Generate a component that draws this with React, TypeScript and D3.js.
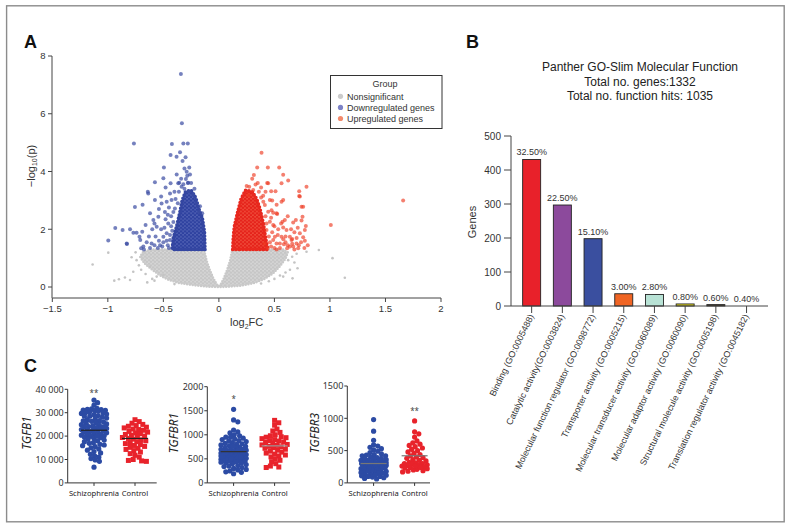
import React from 'react';
import * as d3 from 'd3';

// ---------------- Panel A: volcano ----------------
const volcanoXTicks = [-1.5, -1, -0.5, 0, 0.5, 1, 1.5, 2];
const volcanoYTicks = [0, 2, 4, 6, 8];
const legendLabels = ['Nonsignificant', 'Downregulated genes', 'Upregulated genes'];
const legendColors = ['#cbcbcb', '#7c82c6', '#f38a6c'];

// dense non-significant cloud (outline)
const grayCloud: [number, number][] = [
  [-0.135, 1.3], [-0.45, 1.3], [-0.6, 1.3], [-0.68, 1.22], [-0.71, 1.05], [-0.67, 0.82], [-0.6, 0.6],
  [-0.53, 0.4], [-0.46, 0.26], [-0.36, 0.14], [-0.22, 0.06], [-0.08, 0.01], [0, 0], [0.08, 0.01],
  [0.2, 0.05], [0.32, 0.14], [0.41, 0.28], [0.49, 0.48], [0.55, 0.72], [0.6, 0.98], [0.62, 1.2],
  [0.58, 1.3], [0.122, 1.3], [0.1, 0.9], [0.075, 0.6], [0.045, 0.3], [0.015, 0.08], [0, 0.03],
  [-0.018, 0.08], [-0.05, 0.3], [-0.083, 0.6], [-0.11, 0.9],
];
const grayPoints: [number, number][] = [
  [-1.137, 0.78], [-0.996, 1.19], [-0.942, 0.22], [-0.9, 0.27], [-0.846, 0.33], [-0.8, 0.24], [-0.771, 0.53],
  [-0.786, 1.03], [-0.741, 0.93], [-0.645, 0.16], [0.9, 1.28], [1.023, 1.0], [1.134, 0.32], [0.663, 0.3],
  [0.579, 0.36], [0.708, 0.65], [0.789, 1.22], [0.624, 0.93], [-0.56, 0.36], [-0.5, 0.41], [-0.72, 0.75],
  [-0.66, 0.45], [-0.6, 0.28], [0.66, 1.05], [0.68, 0.85], [0.55, 0.4], [0.64, 0.6], [-0.75, 1.2], [-0.62, 0.7],
  [-0.7, 0.6], [-0.58, 0.22], [0.45, 0.2], [0.5, 0.28], [0.6, 0.5], [0.7, 1.15], [-0.4, 0.1], [0.38, 0.12],
];
const downCore: [number, number][] = [
  [-0.126, 1.3], [-0.42, 1.3], [-0.41, 1.7], [-0.38, 2.1], [-0.35, 2.6], [-0.33, 3.0], [-0.3, 3.3],
  [-0.25, 3.35], [-0.21, 3.1], [-0.18, 2.7], [-0.15, 2.4], [-0.13, 1.9],
];
const downPoints: [number, number][] = [
  [-0.342, 7.38], [-0.333, 5.67], [-0.765, 4.97], [-0.423, 4.95], [-0.32, 4.97], [-0.28, 4.97], [-0.35, 4.67],
  [-0.435, 4.57], [-0.381, 4.51], [-0.3, 4.49], [-0.327, 4.36], [-0.495, 4.14], [-0.267, 4.14], [-0.29, 3.99],
  [-0.285, 3.85], [-0.297, 3.74], [-0.5, 3.77], [-0.576, 3.63], [-0.435, 3.59], [-0.357, 3.61], [-0.32, 3.56],
  [-0.64, 3.3], [-0.52, 3.13], [-0.687, 2.85], [-0.756, 2.77], [-0.933, 2.04], [-0.996, 1.61], [-0.867, 1.97],
  [-0.8, 2.0], [-0.828, 1.49], [-0.741, 1.88], [-0.69, 1.91], [-0.708, 1.63], [-0.68, 1.4], [-0.675, 1.3],
  [-0.83, 1.51], [-0.77, 1.88], [-0.715, 1.74], [-0.7, 1.34], [-0.636, 3.24], [-0.576, 3.01], [-0.62, 2.55],
  [-0.59, 2.32], [-0.56, 2.09], [-0.545, 2.43], [-0.606, 1.51], [-0.53, 1.45], [-0.5, 1.74], [-0.516, 2.89],
  [-0.486, 2.6], [-0.456, 2.2], [-0.44, 3.24], [-0.426, 3.01], [-0.396, 2.72], [-0.47, 1.86], [-0.44, 1.63],
  [-0.366, 3.59], [-0.336, 3.47], [-0.276, 3.61], [-0.48, 2.35], [-0.46, 1.45], [-0.52, 2.0], [-0.57, 1.75],
  [-0.65, 1.55], [-0.6, 2.0], [-0.42, 1.95], [-0.43, 2.45], [-0.47, 2.95], [-0.4, 3.3], [-0.38, 3.9],
  [-0.31, 4.1], [-0.27, 3.3], [-0.55, 1.35], [-0.62, 1.35], [-0.5, 1.55], [-0.45, 2.75], [-0.41, 2.25],
  [-0.37, 2.9], [-0.23, 3.2], [-0.2, 2.9], [-0.25, 3.6], [-0.45, 1.35], [-0.47, 1.6], [-0.49, 2.05],
  [-0.51, 1.4], [-0.54, 1.6], [-0.58, 1.45], [-0.44, 1.8], [-0.46, 2.5], [-0.43, 2.1], [-0.41, 2.6],
  [-0.39, 3.05], [-0.36, 3.3], [-0.34, 3.75], [-0.31, 3.4], [-0.28, 3.6], [-0.26, 3.9], [-0.22, 3.4],
  [-0.18, 2.6], [-0.17, 2.8], [-0.15, 2.55], [-0.63, 1.75], [-0.66, 2.15], [-0.54, 2.7], [-0.58, 2.2],
  [-0.48, 3.45],
];
const upCore: [number, number][] = [
  [0.125, 1.3], [0.44, 1.3], [0.42, 1.7], [0.4, 2.2], [0.37, 2.7], [0.34, 3.05], [0.3, 3.3],
  [0.24, 3.35], [0.2, 3.05], [0.17, 2.6], [0.14, 2.1], [0.13, 1.7],
];
const upPoints: [number, number][] = [
  [0.384, 4.65], [0.345, 4.14], [0.441, 4.14], [0.543, 4.14], [0.315, 3.88], [0.579, 3.89], [0.435, 3.6],
  [0.624, 3.69], [0.789, 3.47], [0.723, 3.32], [0.723, 3.15], [0.51, 3.32], [0.471, 3.32], [0.399, 3.16],
  [0.579, 3.01], [1.659, 3.0], [1.008, 2.15], [0.744, 2.78], [0.753, 2.43], [0.744, 2.3], [0.783, 2.11],
  [0.669, 2.23], [0.693, 2.32], [0.594, 2.32], [0.573, 2.26], [0.474, 2.66], [0.489, 2.57], [0.525, 2.53],
  [0.759, 1.72], [0.774, 1.6], [0.66, 1.66], [0.639, 1.74], [0.564, 1.74], [0.585, 1.48], [0.669, 1.4],
  [0.714, 1.34], [0.615, 1.34], [0.534, 2.0], [0.579, 2.06], [0.489, 1.63], [0.519, 1.51], [0.273, 3.47],
  [0.309, 3.36], [0.264, 3.18], [0.414, 2.84], [0.459, 2.26], [0.429, 1.97], [0.729, 3.13], [0.759, 2.78],
  [0.774, 1.97], [0.729, 1.86], [0.699, 1.51], [0.654, 1.63], [0.639, 1.4], [0.609, 1.97], [0.564, 2.95],
  [0.519, 2.55], [0.489, 2.15], [0.504, 1.74], [0.549, 1.51], [0.429, 2.2], [0.444, 2.61], [0.459, 3.01],
  [0.444, 3.59], [0.564, 3.59], [0.47, 1.4], [0.5, 1.35], [0.45, 1.75], [0.42, 2.45], [0.4, 2.95],
  [0.36, 3.3], [0.35, 3.6], [0.3, 3.75], [0.25, 3.5], [0.55, 1.35], [0.6, 1.55], [0.68, 1.9], [0.72, 1.45],
  [0.8, 1.45], [0.38, 3.1], [0.46, 1.55], [0.48, 1.9], [0.52, 1.3], [0.53, 1.8], [0.56, 2.2], [0.58, 1.65],
  [0.62, 1.45], [0.65, 2.0], [0.66, 1.5], [0.7, 1.7], [0.71, 2.05], [0.74, 1.55], [0.77, 1.35], [0.62, 2.45],
  [0.52, 2.85], [0.48, 3.0], [0.42, 3.3], [0.38, 3.45], [0.33, 3.55], [0.41, 1.5], [0.44, 1.35], [0.47, 2.4],
  [0.5, 2.1], [0.6, 1.75], [0.68, 1.3],
];

// ---------------- Panel B: GO-Slim bars ----------------
const goCategories = [
  'Binding (GO:0005488)',
  'Catalytic activity(GO:0003824)',
  'Molecular function regulator (GO:0098772)',
  'Transporter activity (GO:0005215)',
  'Molecular transducer activity (GO:0060089)',
  'Molecular adaptor activity (GO:0060090)',
  'Structural molecule activity (GO:0005198)',
  'Translation regulator activity (GO:0045182)',
];
const goCounts = [431, 297, 198, 36, 34, 6, 4, 0];
const goPercents = ['32.50%', '22.50%', '15.10%', '3.00%', '2.80%', '0.80%', '0.60%', '0.40%'];
const goColors = ['#e8212a', '#8c4a9c', '#3a4f9f', '#f06524', '#b8e2d5', '#f2e81e', '#4a3d22', '#ffffff'];
const goYTicks = [0, 100, 200, 300, 400, 500];
const goTitle = ['Panther GO-Slim Molecular Function', 'Total no. genes:1332', 'Total no. function hits: 1035'];

// ---------------- Panel C: TGF-beta expression ----------------
const groups = ['Schizophrenia', 'Control'];
const tgfb1Schizo = [35400, 34300, 33200, 31900, 31600, 31400, 31300, 31100, 31000, 30900, 30700, 30400, 30100,
  29700, 29400, 29100, 28800, 28500, 28100, 27700, 27400, 27000, 26600, 26300, 26000, 25700, 25500, 25200, 24900,
  24600, 24400, 24100, 23900, 23600, 23300, 23100, 22800, 22600, 22400, 22100, 21900, 21600, 21400, 21100, 20900,
  20600, 20400, 20100, 19900, 19600, 19300, 19000, 18700, 18300, 18000, 17600, 17200, 16900, 16500, 16200, 15900,
  15500, 15000, 14500, 14000, 13400, 12800, 12200, 11600, 11000, 10400, 9800, 9200, 6700, 24000, 26500, 22000,
  28500, 30000, 20000];
const tgfb1Control = [27000, 26200, 25500, 25000, 24500, 24200, 23800, 23500, 23000, 22800, 22500, 22000, 21700,
  21300, 21000, 20700, 20400, 20000, 19700, 19400, 19000, 18700, 18400, 18000, 17600, 17200, 16800, 16400, 16000,
  15600, 15200, 14800, 14300, 13800, 13200, 12500, 11800, 11000, 10000, 9600, 9400, 9200];
const tgfbr1Schizo = [1530, 1310, 1270, 1100, 1060, 1040, 1000, 980, 950, 930, 900, 880, 860, 840, 820, 800, 790,
  770, 760, 740, 730, 720, 700, 690, 680, 670, 660, 650, 640, 630, 620, 610, 600, 590, 580, 570, 560, 550, 540, 530,
  520, 510, 500, 490, 480, 470, 460, 450, 440, 420, 400, 380, 360, 340, 320, 300, 280, 250, 220, 190, 700, 650, 620,
  580, 550, 520, 480, 450, 680, 640, 600, 560, 540, 500, 460, 430, 410, 350, 270, 230, 760, 810, 870, 910, 950];
const tgfbr1Control = [1300, 1250, 1200, 1120, 1080, 1050, 1000, 980, 960, 950, 940, 920, 900, 880, 870, 850, 840,
  820, 800, 790, 780, 760, 750, 730, 720, 700, 680, 660, 640, 620, 600, 580, 560, 540, 500, 470, 440, 400, 350, 330,
  320];
const tgfbr3Schizo = [980, 800, 660, 590, 570, 550, 530, 510, 490, 470, 450, 440, 430, 420, 400, 390, 380, 370, 360,
  350, 340, 330, 320, 310, 300, 300, 290, 290, 280, 280, 270, 260, 250, 240, 230, 220, 210, 200, 190, 180, 170, 160,
  150, 140, 130, 120, 110, 100, 90, 80, 70, 60, 300, 310, 320, 280, 260, 240, 200, 150, 120, 100, 420, 380, 350, 330,
  270, 250, 230, 180];
const tgfbr3Control = [960, 790, 760, 710, 650, 620, 600, 580, 560, 540, 520, 500, 480, 460, 440, 420, 400, 390, 380,
  360, 350, 340, 320, 310, 300, 290, 280, 270, 260, 250, 240, 230, 220, 210, 200, 190, 180, 170, 300, 280, 260, 240];
const tgfb1Means = [22500, 19000];
const tgfbr1Means = [650, 770];
const tgfbr3Means = [300, 420];
const tgfb1Ticks = [0, 10000, 20000, 30000, 40000];
const tgfbr1Ticks = [0, 500, 1000, 1500, 2000];
const tgfbr3Ticks = [0, 500, 1000, 1500];

const SANS = "'Liberation Sans', Arial, Helvetica, sans-serif";
const CSANS = "'Noto Sans', 'Liberation Sans', sans-serif";
const TXT = '#333333';

type Pt = [number, number];

function DotPattern({ id, bg, dot }: { id: string; bg: string; dot: string }) {
  return (
    <pattern id={id} width={4} height={3.6} patternUnits="userSpaceOnUse">
      <rect width={4} height={3.6} fill={bg} />
      <circle cx={1} cy={0.9} r={1.25} fill={dot} />
      <circle cx={3} cy={2.7} r={1.25} fill={dot} />
    </pattern>
  );
}

function Volcano() {
  const x = d3.scaleLinear().domain([-1.5, 2]).range([52.3, 441]);
  const y = d3.scaleLinear().domain([0, 8]).range([287, 56]);
  const axisY = 298;
  const axisX = 52;
  const poly = d3.line<Pt>().x((d) => x(d[0])).y((d) => y(d[1])).curve(d3.curveLinearClosed);
  return (
    <g fontFamily={SANS}>
      <defs>
        <DotPattern id="pGray" bg="#d6d6d6" dot="#c6c6c6" />
        <DotPattern id="pBlue" bg="#4d5eb2" dot="#2f42a0" />
        <DotPattern id="pRed" bg="#ef4a38" dot="#e5231b" />
      </defs>
      <path d={poly(grayCloud) || ''} fill="url(#pGray)" stroke="#c9c9c9" strokeWidth={2.6}
        strokeDasharray="0 2.8" strokeLinecap="round" strokeLinejoin="round" />
      {grayPoints.map((d, i) => (
        <circle key={'g' + i} cx={x(d[0])} cy={y(d[1])} r={1.3} fill="#c4c4c4" />
      ))}
      <path d={poly(downCore) || ''} fill="url(#pBlue)" stroke="#3446a1" strokeWidth={3.8}
        strokeDasharray="0 3.4" strokeLinecap="round" strokeLinejoin="round" />
      {downPoints.map((d, i) => (
        <circle key={'b' + i} cx={x(d[0])} cy={y(d[1])} r={2} fill="#3a4ca3" fillOpacity={0.7} />
      ))}
      <path d={poly(upCore) || ''} fill="url(#pRed)" stroke="#e8281e" strokeWidth={3.8}
        strokeDasharray="0 3.4" strokeLinecap="round" strokeLinejoin="round" />
      {upPoints.map((d, i) => (
        <circle key={'r' + i} cx={x(d[0])} cy={y(d[1])} r={2} fill="#ee3a22" fillOpacity={0.65} />
      ))}
      {/* axes */}
      <line x1={axisX} x2={axisX} y1={y(8)} y2={axisY} stroke="#444" strokeWidth={1} />
      {volcanoYTicks.map((t) => (
        <g key={'yt' + t}>
          <line x1={axisX - 4} x2={axisX} y1={y(t)} y2={y(t)} stroke="#444" />
          <text x={axisX - 6.5} y={y(t) + 3.4} fontSize={9.5} textAnchor="end" fill={TXT}>{t}</text>
        </g>
      ))}
      <line x1={x(-1.5)} x2={x(2)} y1={axisY} y2={axisY} stroke="#444" strokeWidth={1} />
      {volcanoXTicks.map((t) => (
        <g key={'xt' + t}>
          <line x1={x(t)} x2={x(t)} y1={axisY} y2={axisY + 4} stroke="#444" />
          <text x={x(t)} y={axisY + 13.5} fontSize={9.5} textAnchor="middle" fill={TXT}>
            {t < 0 ? '\u2212' + Math.abs(t) : String(t)}
          </text>
        </g>
      ))}
      <text x={x(0.25)} y={326} fontSize={11} textAnchor="middle" fill={TXT}>
        log<tspan fontSize={7} dy={2.5}>2</tspan><tspan dy={-2.5}>FC</tspan>
      </text>
      <text transform={`translate(34.5,166) rotate(-90)`} fontSize={11} textAnchor="middle" fill={TXT}>
        {'\u2212log'}<tspan fontSize={7} dy={2.5}>10</tspan><tspan dy={-2.5}>(p)</tspan>
      </text>
      {/* legend */}
      <rect x={330.5} y={75.5} width={111.5} height={53} fill="#fff" stroke="#333" strokeWidth={1} />
      <text x={385} y={86.5} fontSize={9} textAnchor="middle" fill={TXT}>Group</text>
      {legendLabels.map((l, i) => (
        <g key={l}>
          <circle cx={340.5} cy={96.3 + i * 11.1} r={2.6} fill={legendColors[i]} />
          <text x={347} y={99.5 + i * 11.1} fontSize={9} fill={TXT}>{l}</text>
        </g>
      ))}
    </g>
  );
}

function GoBars() {
  const x = d3.scalePoint<string>().domain(goCategories).range([516.3, 761.9]).padding(0.5);
  const y = d3.scaleLinear().domain([0, 500]).range([306, 136]);
  const axisX = 511;
  const bw = 18;
  return (
    <g fontFamily={SANS}>
      {goTitle.map((t, i) => (
        <text key={t} x={640} y={71.3 + i * 14.5} fontSize={12} textAnchor="middle" fill="#222">{t}</text>
      ))}
      {goCategories.map((c, i) => {
        const cx = x(c) as number;
        const top = y(goCounts[i]);
        return (
          <g key={c}>
            {goCounts[i] > 0 && (
              <rect x={cx - bw / 2} y={top} width={bw} height={y(0) - top} fill={goColors[i]} stroke="#222" strokeWidth={0.9} />
            )}
            <text x={cx} y={top - 4} fontSize={9} textAnchor="middle" fill={TXT}>{goPercents[i]}</text>
            <line x1={cx} x2={cx} y1={y(0)} y2={y(0) + 7} stroke="#444" />
            <text transform={`translate(${cx + 2.5},${316}) rotate(-64)`} fontSize={9} textAnchor="end" fill={TXT}>{c}</text>
          </g>
        );
      })}
      <line x1={axisX} x2={axisX} y1={y(500)} y2={y(0)} stroke="#444" />
      <line x1={axisX} x2={768} y1={y(0)} y2={y(0)} stroke="#444" />
      {goYTicks.map((t) => (
        <g key={'gy' + t}>
          <line x1={axisX - 7} x2={axisX} y1={y(t)} y2={y(t)} stroke="#444" />
          <text x={axisX - 10} y={y(t) + 3.6} fontSize={10} textAnchor="end" fill={TXT}>{t}</text>
        </g>
      ))}
      <text transform={`translate(476,222) rotate(-90)`} fontSize={11} textAnchor="middle" fill={TXT}>Genes</text>
    </g>
  );
}

function swarm(values: number[], yScale: (v: number) => number, cx: number, minDist: number, maxOff: number) {
  const pts = values.map((v) => ({ v, py: yScale(v), px: cx }));
  const order = pts.slice().sort((a, b) => a.py - b.py);
  const placed: { px: number; py: number }[] = [];
  for (const p of order) {
    let best = 0;
    let bestScore = -Infinity;
    let found = false;
    for (let k = 0; k * 0.6 <= maxOff; k++) {
      const offs = k === 0 ? [0] : [k * 0.6, -k * 0.6];
      for (const o of offs) {
        let md = Infinity;
        for (const q of placed) {
          const dy = q.py - p.py;
          if (Math.abs(dy) >= minDist) continue;
          const dx = q.px - (cx + o);
          md = Math.min(md, Math.sqrt(dx * dx + dy * dy));
        }
        if (md >= minDist) { best = o; found = true; break; }
        if (md > bestScore) { bestScore = md; best = o; }
      }
      if (found) break;
    }
    p.px = cx + best;
    placed.push({ px: p.px, py: p.py });
  }
  return pts;
}

type DotProps = {
  axisX: number; axisEnd: number; yTop: number; yMax: number; ticks: number[];
  schizo: number[]; control: number[]; means: number[]; label: string; labelX: number;
  star: string; starY: number; starIdx: number; tickFmt: (t: number) => string;
  controlSquares: boolean; meanColors: string[];
};

function DotPlot(p: DotProps) {
  const y = d3.scaleLinear().domain([0, p.yMax]).range([482.9, p.yTop]);
  const x = d3.scalePoint<string>().domain(groups).range([p.axisX + 26.3, p.axisX + 67.3]);
  const c0 = x(groups[0]) as number;
  const c1 = x(groups[1]) as number;
  const s0 = swarm(p.schizo, y, c0, 4.2, 13);
  const s1 = swarm(p.control, y, c1, 4.4, 13);
  const blue = '#2c4ba4';
  const red = '#e8232b';
  return (
    <g fontFamily={CSANS}>
      {s0.map((d, i) => (
        <circle key={'s' + i} cx={d.px} cy={d.py} r={2.6} fill={blue} />
      ))}
      {s1.map((d, i) =>
        p.controlSquares ? (
          <rect key={'c' + i} x={d.px - 2.5} y={d.py - 2.5} width={5} height={5} fill={red} />
        ) : (
          <circle key={'c' + i} cx={d.px} cy={d.py} r={2.6} fill={red} />
        )
      )}
      {[c0, c1].map((c, i) => (
        <line key={'m' + i} x1={c - 13} x2={c + 13} y1={y(p.means[i])} y2={y(p.means[i])} stroke={p.meanColors[i]} strokeWidth={1.2} />
      ))}
      <line x1={p.axisX} x2={p.axisX} y1={p.yTop} y2={y(0)} stroke="#333" />
      <line x1={p.axisX} x2={p.axisEnd} y1={y(0)} y2={y(0)} stroke="#333" />
      {p.ticks.map((t) => (
        <g key={'t' + t}>
          <line x1={p.axisX - 3} x2={p.axisX} y1={y(t)} y2={y(t)} stroke="#333" />
          <text x={p.axisX - 4} y={y(t) + 3.2} fontSize={9} textAnchor="end" fill={TXT}>{p.tickFmt(t)}</text>
        </g>
      ))}
      {groups.map((g) => (
        <g key={g}>
          <line x1={x(g) as number} x2={x(g) as number} y1={y(0)} y2={y(0) + 3} stroke="#333" />
          <text x={x(g) as number} y={495.5} fontSize={7.6} textAnchor="middle" fill="#222">{g}</text>
        </g>
      ))}
      <text x={[c0, c1][p.starIdx]} y={p.starY + 4.5} fontSize={8} textAnchor="middle" fill="#444">{p.star}</text>
      <text transform={`translate(${p.labelX},${433}) rotate(-90)`} fontSize={12} fontStyle="italic" textAnchor="middle" fill="#222">
        {p.label}
      </text>
    </g>
  );
}

const fmtSpace = (t: number) => (t >= 10000 ? d3.format(',')(t).replace(/,/g, ' ') : String(t));

export default function App() {
  return (
    <svg width={791} height={530} style={{ position: 'absolute', left: 0, top: 0, background: '#fff' }}>
      <rect x={0} y={0} width={791} height={530} fill="#fff" />
      <rect x={6.6} y={5.8} width={777.6} height={516} fill="none" stroke="#8c8c8c" strokeWidth={1.4} />
      <text x={24} y={47.5} fontSize={18} fontWeight="bold" fontFamily={SANS} fill="#111">A</text>
      <text x={466} y={48} fontSize={18} fontWeight="bold" fontFamily={SANS} fill="#111">B</text>
      <text x={24} y={372} fontSize={18} fontWeight="bold" fontFamily={SANS} fill="#111">C</text>
      <Volcano />
      <GoBars />
      <DotPlot axisX={67.7} axisEnd={156.7} yTop={389.3} yMax={40000} ticks={tgfb1Ticks} schizo={tgfb1Schizo}
        control={tgfb1Control} means={tgfb1Means} label="TGFB1" labelX={31} star="**" starY={391.7} starIdx={0}
        tickFmt={fmtSpace} controlSquares={true} meanColors={['#222', '#222']} />
      <DotPlot axisX={207.3} axisEnd={290} yTop={386.7} yMax={2000} ticks={tgfbr1Ticks} schizo={tgfbr1Schizo}
        control={tgfbr1Control} means={tgfbr1Means} label="TGFBR1" labelX={178} star="*" starY={397.7} starIdx={0}
        tickFmt={(t) => String(t)} controlSquares={true} meanColors={['#333', '#999']} />
      <DotPlot axisX={347.3} axisEnd={430} yTop={386} yMax={1500} ticks={tgfbr3Ticks} schizo={tgfbr3Schizo}
        control={tgfbr3Control} means={tgfbr3Means} label="TGFBR3" labelX={319} star="**" starY={409.3} starIdx={1}
        tickFmt={(t) => String(t)} controlSquares={false} meanColors={['#777', '#777']} />
    </svg>
  );
}
